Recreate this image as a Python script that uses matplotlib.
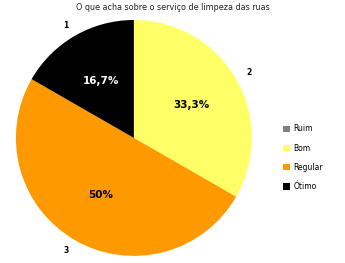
import matplotlib
matplotlib.use("Agg")
import matplotlib.pyplot as plt
from matplotlib.patches import Patch

categories = ["Ruim", "Bom", "Regular", "Ótimo"]
values = [0, 33.3, 50, 16.7]
slice_labels = ["", "2", "3", "1"]
colors = ["#808080", "#FFFF66", "#FF9900", "#000000"]
pct_colors = ["black", "black", "black", "white"]
title = "O que acha sobre o serviço de limpeza das ruas"


def fmt_pct(p):
    if p < 0.5:
        return ""
    s = f"{p:.1f}".replace(".", ",")
    if s.endswith(",0"):
        s = s[:-2]
    return s + "%"


fig = plt.figure(figsize=(3.45, 2.63), dpi=100)
ax = fig.add_axes([0.046, 0.027, 0.684, 0.897])
wedges, texts, autotexts = ax.pie(
    values, labels=slice_labels, colors=colors, startangle=90,
    counterclock=False, autopct=fmt_pct, pctdistance=0.56,
    labeldistance=1.1, wedgeprops=dict(linewidth=0),
    textprops=dict(fontsize=5.5, fontweight="bold", color="black"),
)
for t, c in zip(autotexts, pct_colors):
    t.set_color(c)
    t.set_fontsize(7.5)
    t.set_fontweight("bold")
ax.set_aspect("equal")
ax.set_xlim(-1, 1)
ax.set_ylim(-1, 1)

fig.text(0.5, 0.97, title, ha="center", va="center", fontsize=5.8, color="#222222")

handles = [Patch(facecolor=c, edgecolor="none") for c in colors]
fig.legend(handles, categories, loc="center left", bbox_to_anchor=(0.80, 0.40),
           frameon=False, fontsize=5.5, handlelength=0.9, handleheight=0.9,
           handletextpad=0.5, labelspacing=1.35)

fig.savefig("out.png", dpi=100)
